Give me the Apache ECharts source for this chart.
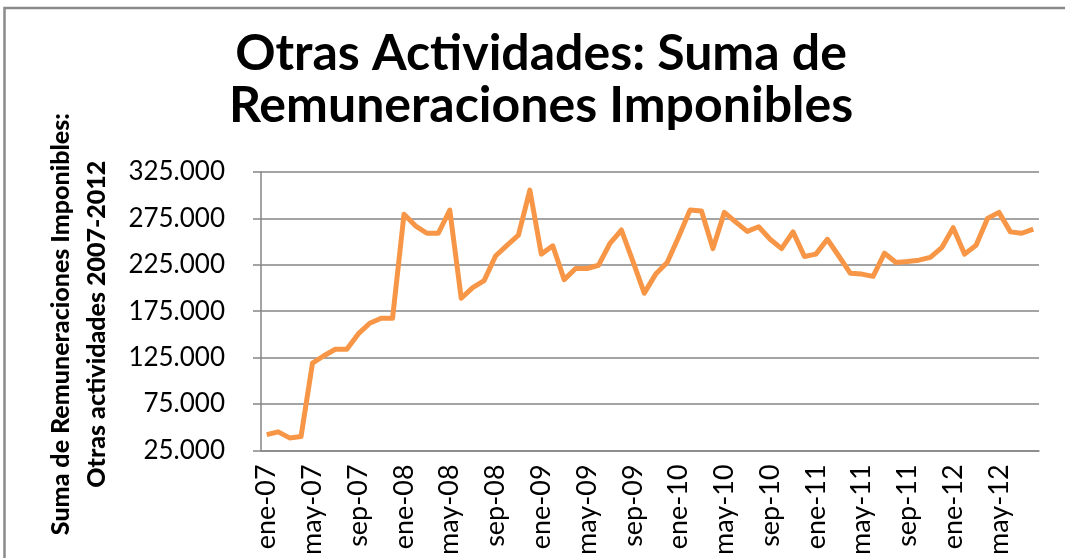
<!DOCTYPE html>
<html>
<head>
<meta charset="utf-8">
<script src="https://cdn.jsdelivr.net/npm/echarts@6/dist/echarts.min.js"></script>
<style>
  html,body{margin:0;padding:0;background:#fff;}
  #main{width:1065px;height:558px;}
</style>
</head>
<body>
<div id="main"></div>
<script>
// meses y años del eje x
var meses = ['ene','feb','mar','abr','may','jun','jul','ago','sep','oct','nov','dic'];
var anios = ['07','08','09','10','11','12'];
var numMeses = 68; // ene-07 .. ago-12

// Suma de remuneraciones imponibles (Otras actividades), mensual
var remuneraciones = [
  42000, 45000, 38500, 40000, 119000, 127000, 134000, 134000, 150500, 162000, 167500, 167500,
  279500, 267000, 259000, 259000, 284000, 189000, 200500, 208000, 234500, 246000, 257000, 305500,
  236500, 245500, 209000, 221000, 221000, 224500, 248000, 262500, 229000, 194500, 215000, 227500,
  255000, 284000, 283000, 242500, 281500, 271000, 261000, 266000, 252500, 242500, 260500, 234000,
  236500, 252500, 234500, 216000, 215000, 212500, 237500, 227500, 228500, 230000, 233000, 243500,
  265000, 236500, 246000, 275000, 281500, 260500, 259000, 263500
];

// ticks del eje y
var yMin = 25000;
var yMax = 325000;
var yPaso = 50000;

var categorias = [];
for (var i = 0; i < numMeses; i++) {
  categorias.push(meses[i % 12] + '-' + anios[Math.floor(i / 12)]);
}

/*formato 325.000*/
function miles(v) {
  return String(v).replace(/\B(?=(\d{3})+(?!\d))/g, '.');
}

var chart = echarts.init(document.getElementById('main'));
var gris = '#868686';
var fuente = 'Lato, "Open Sans", sans-serif';

var option = {
  backgroundColor: '#fff',
  animation: false,
  title: {
    text: 'Otras Actividades: Suma de\nRemuneraciones Imponibles',
    left: 536,
    textAlign: 'center',
    top: 23,
    textStyle: {
      fontFamily: fuente,
      fontWeight: 'bold',
      fontSize: 50,
      lineHeight: 52,
      color: '#000'
    }
  },
  grid: {
    left: 261,
    right: 26,
    top: 172,
    bottom: 106
  },
  xAxis: {
    type: 'category',
    data: categorias,
    boundaryGap: true,
    axisLine: { lineStyle: { color: gris, width: 1.5 } },
    axisTick: { interval: 3, length: 7, lineStyle: { color: gris, width: 1.5 } },
    axisLabel: {
      interval: 3,
      rotate: 90,
      margin: 14,
      fontFamily: fuente,
      fontSize: 27,
      color: '#000'
    },
    splitLine: { show: false }
  },
  yAxis: {
    type: 'value',
    min: yMin,
    max: yMax,
    interval: yPaso,
    name: 'Suma de Remuneraciones Imponibles:\nOtras actividades 2007-2012',
    nameLocation: 'middle',
    nameRotate: 90,
    nameGap: 146,
    nameTextStyle: {
      fontFamily: fuente,
      fontWeight: 900,
      fontSize: 25,
      lineHeight: 36,
      padding: [0, 26, 0, 0],
      color: '#000'
    },
    axisLine: { show: true, lineStyle: { color: gris, width: 1.5 } },
    axisTick: { show: true, length: 8, lineStyle: { color: gris, width: 1.5 } },
    axisLabel: {
      margin: 36,
      formatter: miles,
      fontFamily: fuente,
      fontSize: 26,
      color: '#000'
    },
    splitLine: { lineStyle: { color: gris, width: 1.5 } }
  },
  series: [
    {
      name: 'Otras actividades',
      type: 'line',
      data: remuneraciones,
      symbol: 'none',
      lineStyle: { color: '#F79646', width: 5, join: 'round' },
      itemStyle: { color: '#F79646' }
    }
  ],
  // marco del gráfico (borde superior e izquierdo)
  graphic: [
    {
      type: 'polyline',
      shape: { points: [[4.5, 558], [4.5, 8], [1065, 8]] },
      style: { stroke: '#8a8a8a', lineWidth: 2.5, fill: null }
    }
  ]
};

chart.setOption(option);
</script>
</body>
</html>
